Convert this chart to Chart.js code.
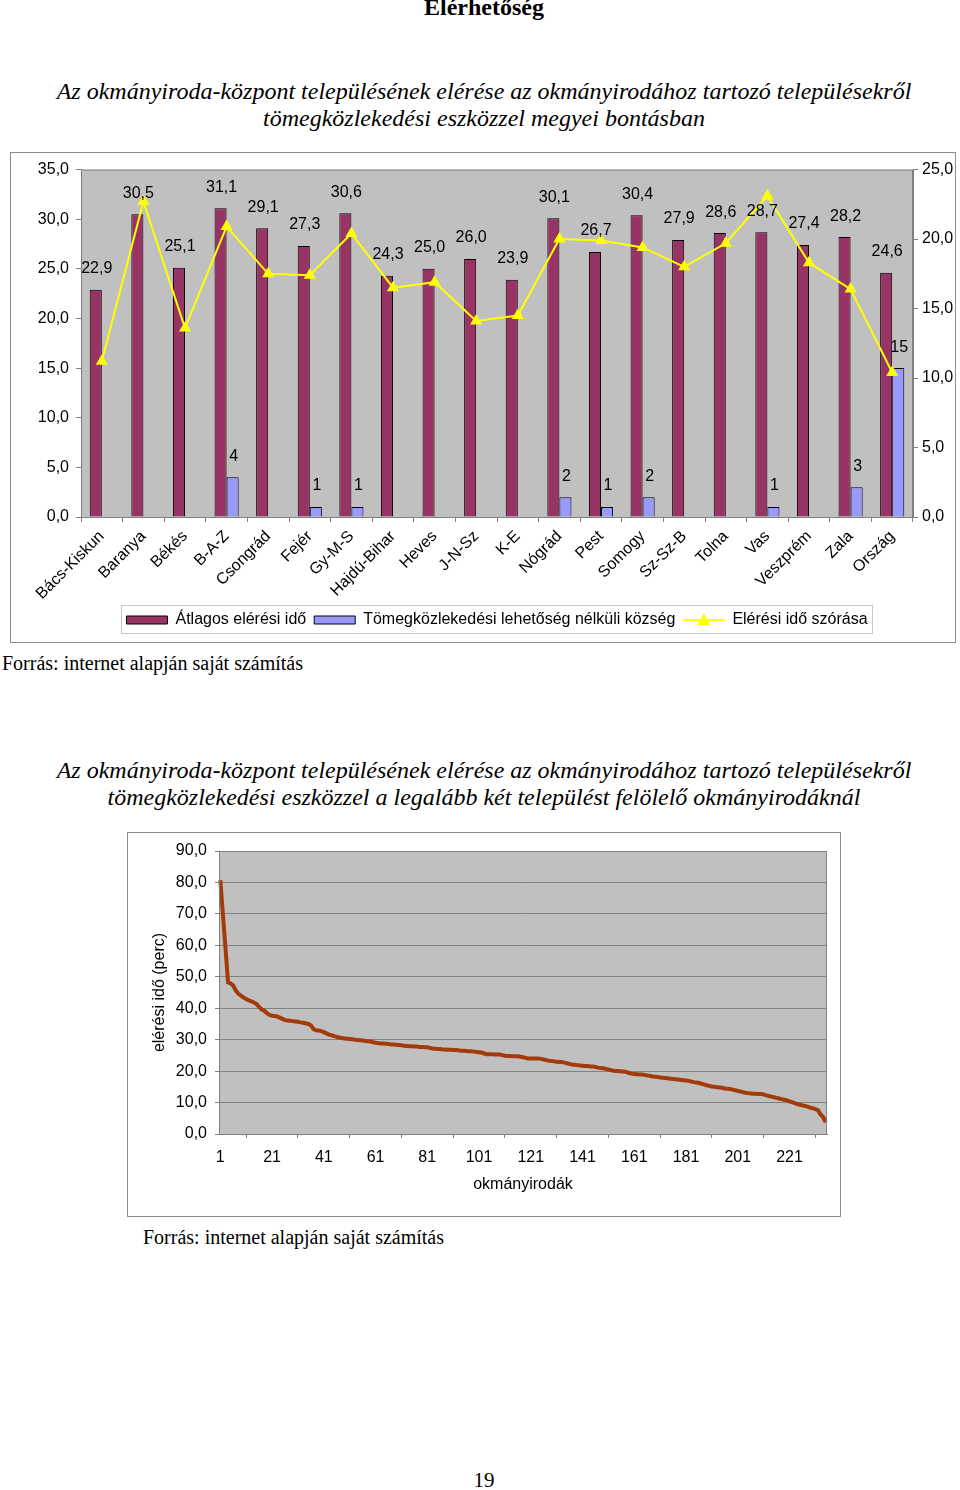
<!DOCTYPE html>
<html lang="hu">
<head>
<meta charset="utf-8">
<script src="https://cdn.jsdelivr.net/npm/chart.js@4.4.1/dist/chart.umd.min.js"></script>
<style>
body { margin: 0; width: 960px; height: 1490px; position: relative; background: #fff; font-family: 'Liberation Serif', 'Times New Roman', serif; overflow: hidden; }
.txt { position: absolute; white-space: nowrap; color: #000; }
.center { left: 0; width: 960px; text-align: center; }
.ttl { font-style: italic; font-size: 24px; line-height: 27px; }
.src { font-size: 20px; line-height: 22px; }
.box { position: absolute; border: 1px solid #8c8c8c; box-sizing: border-box; }
.box div { position: absolute; left: 0; top: 0; }
</style>
</head>
<body>
<div class="txt center" style="top:-6px; left:4px; font-weight:bold; font-size:24px;">Elérhetőség</div>
<div class="txt center ttl" style="top:78px; left:4px;">Az okmányiroda-központ településének elérése az okmányirodához tartozó településekről<br>tömegközlekedési eszközzel megyei bontásban</div>

<div class="box" style="left:10px; top:152px; width:946px; height:491px;">
  <div style="width:944px; height:489px;"><canvas id="countyChart"></canvas></div>
</div>
<div class="txt src" style="left:2px; top:652px;">Forrás: internet alapján saját számítás</div>

<div class="txt center ttl" style="top:757px; left:4px;">Az okmányiroda-központ településének elérése az okmányirodához tartozó településekről<br>tömegközlekedési eszközzel a legalább két települést felölelő okmányirodáknál</div>

<div class="box" style="left:127px; top:832px; width:714px; height:385px;">
  <div style="width:712px; height:383px;"><canvas id="officeChart"></canvas></div>
</div>
<div class="txt src" style="left:143px; top:1226px;">Forrás: internet alapján saját számítás</div>
<div class="txt center" style="top:1468px; left:4px; font-size:21px;">19</div>

<script>
// --- megyei adatok ---
const counties = ['Bács-Kiskun', 'Baranya', 'Békés', 'B-A-Z', 'Csongrád', 'Fejér', 'Gy-M-S', 'Hajdú-Bihar', 'Heves', 'J-N-Sz',
    'K-E', 'Nógrád', 'Pest', 'Somogy', 'Sz-Sz-B', 'Tolna', 'Vas', 'Veszprém', 'Zala', 'Ország'];
const avgTime = [22.9, 30.5, 25.1, 31.1, 29.1, 27.3, 30.6, 24.3, 25.0, 26.0,
    23.9, 30.1, 26.7, 30.4, 27.9, 28.6, 28.7, 27.4, 28.2, 24.6];
const noTransport = [0, 0, 0, 4, 0, 1, 1, 0, 0, 0,
    0, 2, 1, 2, 0, 0, 1, 0, 3, 15];
const timeSpread = [11.2, 22.7, 13.6, 20.9, 17.5, 17.4, 20.4, 16.5, 16.9, 14.1,
    14.5, 20.0, 19.9, 19.4, 18.0, 19.7, 23.1, 18.3, 16.4, 10.4];
const leftTicks = [0, 35, 5];
const rightTicks = [0, 25, 5];

// --- okmanyirodak (csokkeno sorrendben) ---
const officeTime = [
    80.7, 70.0, 59.2, 48.2, 47.9, 47.2, 45.6, 44.6, 44.0, 43.4,
    42.9, 42.5, 42.2, 41.8, 41.3, 40.4, 39.6, 39.2, 38.4, 37.9,
    37.6, 37.5, 37.4, 37.0, 36.6, 36.2, 36.1, 36.0, 35.9, 35.8,
    35.7, 35.5, 35.4, 35.2, 35.0, 34.6, 33.4, 33.0, 32.9, 32.7,
    32.4, 32.0, 31.6, 31.4, 31.1, 30.9, 30.7, 30.5, 30.4, 30.3,
    30.2, 30.1, 30.0, 29.9, 29.8, 29.7, 29.6, 29.5, 29.4, 29.2,
    29.0, 28.9, 28.8, 28.8, 28.7, 28.6, 28.5, 28.5, 28.4, 28.3,
    28.2, 28.1, 28.0, 27.9, 27.9, 27.8, 27.8, 27.7, 27.7, 27.6,
    27.6, 27.4, 27.2, 27.1, 27.0, 27.0, 26.9, 26.9, 26.8, 26.8,
    26.7, 26.7, 26.6, 26.5, 26.5, 26.4, 26.3, 26.3, 26.2, 26.1,
    26.0, 25.9, 25.6, 25.4, 25.4, 25.4, 25.3, 25.3, 25.3, 25.1,
    24.9, 24.8, 24.8, 24.7, 24.7, 24.7, 24.6, 24.4, 24.2, 24.0,
    24.0, 24.0, 24.0, 24.0, 23.9, 23.7, 23.5, 23.3, 23.2, 23.1,
    23.0, 22.9, 22.9, 22.7, 22.5, 22.3, 22.1, 22.0, 21.9, 21.8,
    21.7, 21.6, 21.6, 21.5, 21.5, 21.3, 21.1, 21.0, 20.9, 20.7,
    20.5, 20.3, 20.1, 20.0, 20.0, 19.9, 19.9, 19.7, 19.4, 19.2,
    19.1, 19.0, 18.9, 18.9, 18.8, 18.6, 18.5, 18.3, 18.2, 18.1,
    18.0, 17.9, 17.8, 17.7, 17.6, 17.5, 17.4, 17.3, 17.2, 17.1,
    17.0, 16.9, 16.7, 16.5, 16.4, 16.2, 16.0, 15.8, 15.5, 15.3,
    15.1, 15.0, 14.9, 14.8, 14.7, 14.5, 14.4, 14.3, 14.1, 13.9,
    13.7, 13.5, 13.3, 13.1, 13.0, 12.9, 12.8, 12.8, 12.7, 12.7,
    12.6, 12.3, 12.1, 11.9, 11.7, 11.5, 11.3, 11.1, 10.9, 10.7,
    10.4, 10.1, 9.8, 9.5, 9.3, 9.1, 8.9, 8.7, 8.4, 8.2,
    7.9, 7.6, 6.2, 5.4, 3.7
];
const officeIds = officeTime.map((v, i) => String(i + 1));
const officeTickEvery = 20;

Chart.defaults.font.family = "'Liberation Sans', Arial, sans-serif";
Chart.defaults.font.size = 16;
Chart.defaults.color = '#000';
Chart.defaults.animation = false;

const comma = (v, d) => Number(v).toFixed(d).replace('.', ',');

// szurke rajzterulet
const plotBg = {
    id: 'plotBg',
    beforeDraw(chart) {
        const a = chart.chartArea;
        const ctx = chart.ctx;
        ctx.save();
        ctx.fillStyle = '#c0c0c0';
        ctx.fillRect(a.left, a.top, a.right - a.left, a.bottom - a.top);
        ctx.restore();
    },
    afterDraw(chart) {
        const a = chart.chartArea;
        const ctx = chart.ctx;
        ctx.save();
        ctx.strokeStyle = '#808080';
        ctx.lineWidth = 1;
        ctx.strokeRect(a.left + 0.5, a.top + 0.5, a.right - a.left - 1, a.bottom - a.top);
        ctx.restore();
    }
};

// oszlopok feletti ertekek
const barLabels = {
    id: 'barLabels',
    afterDatasetsDraw(chart) {
        const ctx = chart.ctx;
        ctx.save();
        ctx.font = "16px 'Liberation Sans', Arial, sans-serif";
        ctx.fillStyle = '#000';
        ctx.textAlign = 'center';
        ctx.textBaseline = 'middle';
        [0, 1].forEach(di => {
            const meta = chart.getDatasetMeta(di);
            const vals = chart.data.datasets[di].data;
            meta.data.forEach((bar, i) => {
                if (!vals[i]) return;
                const txt = di === 0 ? comma(vals[i], 1) : String(vals[i]);
                ctx.fillText(txt, bar.x + 1, bar.y - 21);
            });
        });
        ctx.restore();
    }
};

// jelmagyarazat kerete + vonal jelolo
const legendFrame = {
    id: 'legendFrame',
    afterDraw(chart) {
        const boxes = chart.legend.legendHitBoxes;
        if (!boxes || boxes.length < 3) return;
        const ctx = chart.ctx;
        const first = boxes[0];
        const last = boxes[boxes.length - 1];
        ctx.save();
        ctx.strokeStyle = '#c8c8c8';
        ctx.lineWidth = 1;
        ctx.strokeRect(Math.round(first.left) - 4.5, Math.round(first.top) - 6.5,
            Math.round(last.left + last.width - first.left) + 10, Math.round(first.height) + 12);
        const b = boxes[2];
        const cy = b.top + b.height / 2;
        ctx.strokeStyle = '#ffff00';
        ctx.lineWidth = 2;
        ctx.beginPath();
        ctx.moveTo(b.left, cy);
        ctx.lineTo(b.left + 41, cy);
        ctx.stroke();
        ctx.fillStyle = '#ffff00';
        ctx.beginPath();
        ctx.moveTo(b.left + 20.5, cy - 7);
        ctx.lineTo(b.left + 27, cy + 5);
        ctx.lineTo(b.left + 14, cy + 5);
        ctx.closePath();
        ctx.fill();
        ctx.restore();
    }
};

new Chart(document.getElementById('countyChart'), {
    data: {
        labels: counties,
        datasets: [{
            type: 'bar',
            label: 'Átlagos elérési idő',
            data: avgTime,
            backgroundColor: '#993366',
            borderColor: '#000',
            borderWidth: 1,
            yAxisID: 'y',
            order: 2
        }, {
            type: 'bar',
            label: 'Tömegközlekedési lehetőség nélküli község',
            data: noTransport,
            backgroundColor: '#9999ff',
            borderColor: '#000',
            borderWidth: 1,
            yAxisID: 'y',
            order: 2
        }, {
            type: 'line',
            label: 'Elérési idő szórása',
            data: timeSpread,
            borderColor: '#ffff00',
            backgroundColor: '#ffff00',
            borderWidth: 2,
            pointStyle: 'triangle',
            pointRadius: 7,
            pointBorderWidth: 0,
            tension: 0,
            yAxisID: 'y1',
            order: 1
        }]
    },
    options: {
        responsive: true,
        maintainAspectRatio: false,
        layout: { padding: { top: 8, left: 0, right: 0, bottom: 4 } },
        datasets: { bar: { categoryPercentage: 0.58, barPercentage: 1.0 } },
        plugins: {
            tooltip: { enabled: false },
            legend: {
                position: 'bottom',
                fullSize: false,
                labels: {
                    boxWidth: 41,
                    boxHeight: 8,
                    padding: 8,
                    font: { size: 16 },
                    sort: (a, b) => a.datasetIndex - b.datasetIndex,
                    generateLabels: (chart) => {
                        const items = Chart.defaults.plugins.legend.labels.generateLabels(chart);
                        items.forEach(it => {
                            if (it.datasetIndex === 2) {
                                it.fillStyle = 'rgba(0,0,0,0)';
                                it.strokeStyle = 'rgba(0,0,0,0)';
                            } else {
                                it.strokeStyle = '#000';
                                it.lineWidth = 1;
                            }
                        });
                        return items;
                    }
                }
            }
        },
        scales: {
            x: {
                afterFit: (s) => { s.height = 87; },
                grid: { display: true, drawOnChartArea: false, offset: true, tickLength: 5, color: '#808080' },
                border: { color: '#808080' },
                ticks: { minRotation: 45, maxRotation: 45, autoSkip: false, padding: 5, font: { size: 16 } }
            },
            y: {
                position: 'left',
                min: leftTicks[0], max: leftTicks[1],
                afterFit: (s) => { s.width = 70; },
                grid: { drawOnChartArea: false, tickLength: 5, color: '#808080' },
                border: { color: '#808080' },
                ticks: { stepSize: leftTicks[2], padding: 7, callback: (v) => comma(v, 1) }
            },
            y1: {
                position: 'right',
                min: rightTicks[0], max: rightTicks[1],
                afterFit: (s) => { s.width = 42; },
                grid: { drawOnChartArea: false, tickLength: 5, color: '#808080' },
                border: { color: '#808080' },
                ticks: { stepSize: rightTicks[2], padding: 4, callback: (v) => comma(v, 1) }
            }
        }
    },
    plugins: [plotBg, barLabels, legendFrame]
});

new Chart(document.getElementById('officeChart'), {
    type: 'line',
    data: {
        labels: officeIds,
        datasets: [{
            label: 'elérési idő',
            data: officeTime,
            borderColor: '#a33a0a',
            borderWidth: 4,
            pointRadius: 0,
            tension: 0,
            fill: false
        }]
    },
    options: {
        responsive: true,
        maintainAspectRatio: false,
        layout: { padding: { top: 18, left: 20, right: 13, bottom: 20 } },
        plugins: { legend: { display: false }, tooltip: { enabled: false } },
        scales: {
            x: {
                offset: true,
                afterFit: (s) => { s.height = 62; },
                grid: { display: true, drawOnChartArea: false, offset: true, tickLength: 4, color: '#808080' },
                border: { color: '#808080' },
                ticks: {
                    autoSkip: false, maxRotation: 0, minRotation: 0, padding: 10,
                    callback: (v, i) => (i % officeTickEvery === 0 ? officeIds[i] : null)
                },
                title: { display: true, text: 'okmányirodák', font: { size: 16 }, padding: { top: 4, bottom: 2 } }
            },
            y: {
                min: 0, max: 90,
                afterFit: (s) => { s.width = 71; },
                grid: { color: '#808080', tickLength: 4 },
                border: { color: '#808080' },
                ticks: { stepSize: 10, padding: 8, callback: (v) => comma(v, 1) },
                title: { display: true, text: 'elérési idő (perc)', font: { size: 16 }, padding: { top: 2, bottom: 0 } }
            }
        }
    },
    plugins: [plotBg]
});
</script>
</body>
</html>
